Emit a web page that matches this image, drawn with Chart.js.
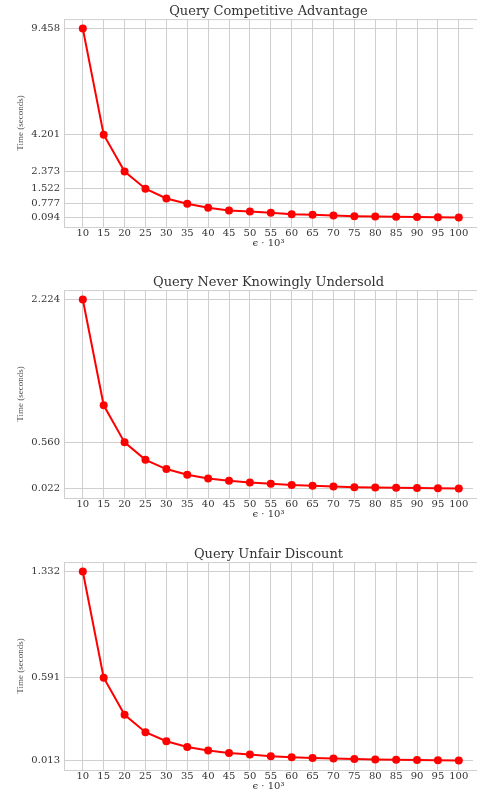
<!DOCTYPE html>
<html>
<head>
<meta charset="utf-8">
<script src="https://cdn.jsdelivr.net/npm/chart.js@4"></script>
<style>
  html, body { margin: 0; padding: 0; background: #fff; overflow: hidden; }
  canvas { position: absolute; left: 0; }
</style>
</head>
<body>
<canvas id="c1" width="477" height="250" style="top:0px"></canvas>
<canvas id="c2" width="477" height="250" style="top:271px"></canvas>
<canvas id="c3" width="477" height="247" style="top:543px"></canvas>
<script>
// epsilon * 10^3
const eps = [10, 15, 20, 25, 30, 35, 40, 45, 50, 55, 60, 65, 70, 75, 80, 85, 90, 95, 100];

const competitive = [9.458, 4.201, 2.373, 1.522, 1.04, 0.777, 0.577, 0.445, 0.392, 0.33, 0.26, 0.23, 0.19, 0.16, 0.145, 0.13, 0.12, 0.105, 0.094];
const undersold = [2.224, 0.992, 0.560, 0.357, 0.249, 0.182, 0.139, 0.112, 0.092, 0.077, 0.062, 0.054, 0.045, 0.038, 0.034, 0.030, 0.027, 0.025, 0.022];
const unfair = [1.332, 0.591, 0.332, 0.211, 0.148, 0.108, 0.083, 0.066, 0.055, 0.043, 0.036, 0.031, 0.027, 0.024, 0.021, 0.019, 0.017, 0.015, 0.013];

const ticksCompetitive = [0.094, 0.777, 1.522, 2.373, 4.201, 9.458];
const ticksUndersold = [0.022, 0.560, 2.224];
const ticksUnfair = [0.013, 0.591, 1.332];

const GRID = "#cfcfcf";
const TXT = "#333";

// light frame round the plot area (matplotlib spines), right side runs off the page
const frame = {
    id: "frame",
    afterDraw(chart) {
        const a = chart.chartArea, ctx = chart.ctx;
        ctx.save();
        ctx.strokeStyle = GRID;
        ctx.lineWidth = 1;
        ctx.strokeRect(a.left + 0.5, a.top + 0.5, a.right - a.left + 5, a.bottom - a.top);
        ctx.restore();
    }
};

function lineChart(id, title, values, yTicks, xHeight) {
    const lo = Math.min(...values), hi = Math.max(...values);
    const m = (hi - lo) * 0.05;

    new Chart(document.getElementById(id), {
        type: "line",
        data: {
            datasets: [{
                data: eps.map((e, i) => ({ x: e, y: values[i] })),
                borderColor: "#ff0000",
                backgroundColor: "#ff0000",
                borderWidth: 2,
                pointRadius: 4,
                pointBorderWidth: 0,
                fill: false,
                tension: 0,
            }],
        },
        options: {
            responsive: false,
            devicePixelRatio: 1,
            animation: false,
            layout: { padding: 0 },
            scales: {
                x: {
                    type: "linear",
                    min: 5.5,
                    max: 103.4,
                    afterBuildTicks: (s) => { s.ticks = eps.map(v => ({ value: v })); },
                    afterFit: (s) => { s.height = xHeight; s.paddingLeft = 0; s.paddingRight = 0; },
                    grid: { color: GRID, drawTicks: false },
                    border: { color: GRID },
                    ticks: {
                        padding: 0,
                        color: TXT,
                        font: { family: "DejaVu Serif", size: 10 },
                        maxRotation: 0,
                        autoSkip: false,
                    },
                    title: {
                        display: true,
                        text: "\u03f5 \u00b7 10\u00b3",
                        color: TXT,
                        padding: { top: 0, bottom: 1 + xHeight - 23 },
                        font: { family: "DejaVu Serif", size: 10 },
                    },
                },
                y: {
                    min: lo - m,
                    max: hi + m,
                    afterBuildTicks: (s) => { s.ticks = yTicks.map(v => ({ value: v })); },
                    afterFit: (s) => { s.width = 64; s.paddingTop = 0; s.paddingBottom = 0; },
                    grid: { color: GRID, drawTicks: false },
                    border: { color: GRID },
                    ticks: {
                        padding: 4,
                        color: TXT,
                        font: { family: "DejaVu Serif", size: 10 },
                        callback: (v) => v.toFixed(3),
                    },
                    title: {
                        display: true,
                        text: "Time (seconds)",
                        color: "#555",
                        padding: { top: 15, bottom: 0 },
                        font: { family: "Liberation Serif", size: 9 },
                    },
                },
            },
            plugins: {
                legend: { display: false },
                tooltip: { enabled: false },
                title: {
                    display: true,
                    text: title,
                    fullSize: false,
                    color: TXT,
                    padding: { top: 3.5, bottom: 0 },
                    font: { family: "DejaVu Serif", size: 13, weight: "normal" },
                },
            },
        },
        plugins: [frame],
    });
}

lineChart("c1", "Query Competitive Advantage", competitive, ticksCompetitive, 23);
lineChart("c2", "Query Never Knowingly Undersold", undersold, ticksUndersold, 23);
lineChart("c3", "Query Unfair Discount", unfair, ticksUnfair, 20);
</script>
</body>
</html>
